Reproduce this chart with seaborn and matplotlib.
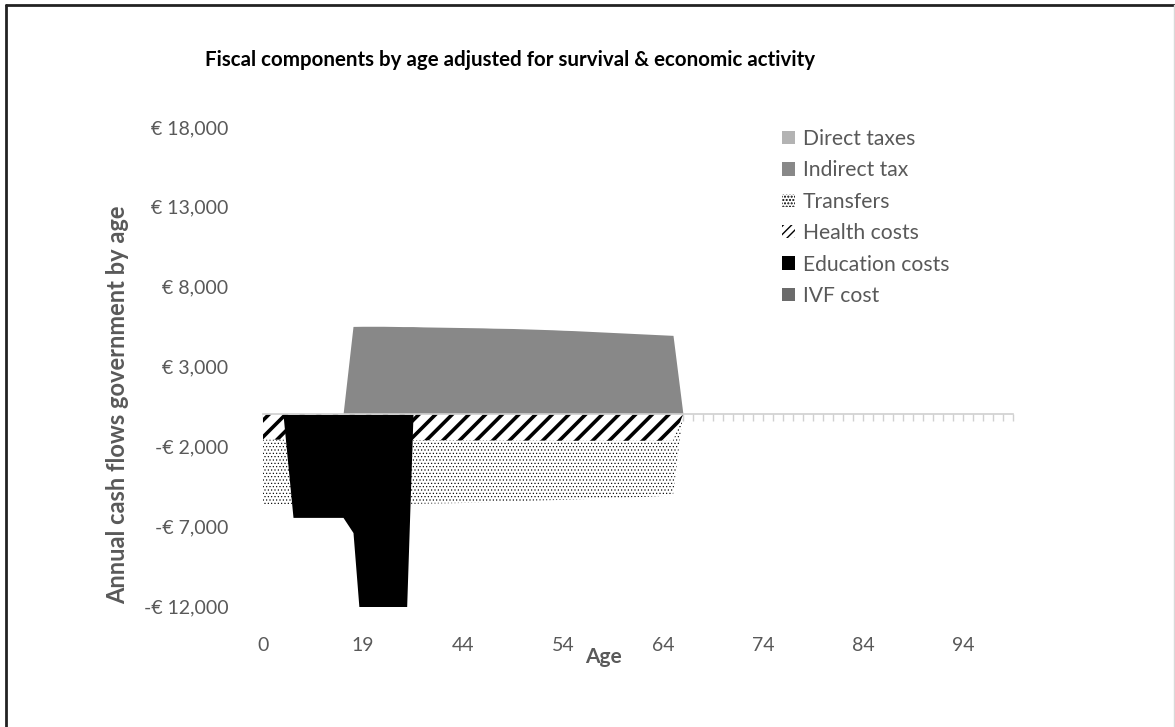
import numpy as np
import pandas as pd
import matplotlib
matplotlib.use('Agg')
import matplotlib.pyplot as plt
from matplotlib.lines import Line2D
from matplotlib.patches import Patch
from matplotlib.ticker import FuncFormatter
import seaborn as sns

# ---- data, one value per age category ----
n_cat = 76
age_ticks = [0, 10, 20, 30, 40, 50, 60, 70]
age_labels = ['0', '19', '44', '54', '64', '74', '84', '94']

direct_taxes = [0] * n_cat
indirect_tax = ([0] * 9 +
                [5510, 5520, 5520, 5520, 5510, 5500, 5500, 5480, 5470, 5460, 5450,
                 5440, 5430, 5420, 5400, 5390, 5380, 5360, 5340, 5320, 5300, 5270,
                 5250, 5220, 5190, 5160, 5130, 5100, 5070, 5040, 5010, 4980, 4950] +
                [0] * 34)
transfers = ([-5650, -5650, -5650, -5600, -5600, -5600, -5600, -5600, -5600,
              -5600, -5600, -5600, -5600, -5600, -5600,
              -5600, -5590, -5580, -5570, -5560, -5550, -5530, -5510, -5490,
              -5470, -5450, -5430, -5410, -5390, -5370, -5350, -5330, -5310,
              -5290, -5270, -5250, -5230, -5200, -5170, -5140, -5110, -5080] +
             [0] * 34)
health_costs = ([-1580, -1580, -1580, -1600, -1600, -1600, -1600, -1600, -1600,
                 -1600, -1600, -1600, -1600, -1600, -1600,
                 -1620, -1620, -1620, -1620, -1630, -1630, -1630, -1630, -1630,
                 -1640, -1640, -1640, -1640, -1640, -1650, -1650, -1650, -1650,
                 -1650, -1650, -1650, -1650, -1650, -1650, -1650, -1650, -1650] +
                [0] * 34)
education_costs = ([0, 0, 0, -6450, -6450, -6450, -6450, -6450, -6450,
                    -7400, -15300, -16000, -16500, -17500, -19000] +
                   [0] * 61)
ivf_cost = [0] * n_cat

series_names = ['Direct taxes', 'Indirect tax', 'Transfers', 'Health costs',
                'Education costs', 'IVF cost']

df = pd.DataFrame({
    'idx': np.arange(n_cat),
    'Direct taxes': direct_taxes,
    'Indirect tax': indirect_tax,
    'Transfers': transfers,
    'Health costs': health_costs,
    'Education costs': education_costs,
    'IVF cost': ivf_cost,
})

# ---- style ----
sns.set_style('white')
plt.rcParams['font.family'] = ['Lato', 'DejaVu Sans']
grey_txt = '#595959'

styles = {
    'Direct taxes': dict(facecolor='#b3b3b3', edgecolor='#b3b3b3', hatch=None, hlw=1.0),
    'Indirect tax': dict(facecolor='#888888', edgecolor='#888888', hatch=None, hlw=1.0),
    'Transfers': dict(facecolor='white', edgecolor='black', hatch='.....', hlw=0.45),
    'Health costs': dict(facecolor='white', edgecolor='black', hatch='//', hlw=2.6),
    'Education costs': dict(facecolor='black', edgecolor='black', hatch=None, hlw=1.0),
    'IVF cost': dict(facecolor='#6b6b6b', edgecolor='#6b6b6b', hatch=None, hlw=1.0),
}
# denser hatches for the small legend squares
legend_hatch = {'Transfers': ('.....', 0.45), 'Health costs': ('////', 1.6)}

fig = plt.figure(figsize=(11.75, 7.27), dpi=100)
ax = fig.add_axes([263 / 1175, 1 - 606 / 727, 750 / 1175, 479 / 727])

# overlapping (non-stacked) area chart, drawn in series order
for name in series_names:
    st = styles[name]
    with plt.rc_context({'hatch.linewidth': st['hlw']}):
        coll = ax.fill_between(df['idx'], 0, df[name], facecolor=st['facecolor'],
                               edgecolor=st['edgecolor'], hatch=st['hatch'],
                               linewidth=0)
    if hasattr(coll, 'set_hatch_linewidth'):
        coll.set_hatch_linewidth(st['hlw'])

ax.set_xlim(0, n_cat - 1)
ax.set_ylim(-12000, 18000)
ax.set_yticks(np.arange(-12000, 18001, 5000))


def euro(v, pos):
    if v < 0:
        return f'-€ {abs(v):,.0f}'
    return f'€ {v:,.0f}'


ax.yaxis.set_major_formatter(FuncFormatter(euro))
ax.tick_params(axis='y', left=False, length=0, pad=25, labelsize=14,
               labelcolor=grey_txt)

# category axis crossing at zero with a tick per category
for side in ['left', 'right', 'top']:
    ax.spines[side].set_visible(False)
ax.spines['bottom'].set_position(('data', 0))
ax.spines['bottom'].set_color('#d0d0d0')
ax.spines['bottom'].set_linewidth(1.2)
ax.spines['bottom'].set_zorder(3)
ax.set_xticks(np.arange(n_cat))
ax.tick_params(axis='x', bottom=True, direction='out', length=5, width=1,
               color='#d0d0d0', labelbottom=False)

# labels placed low, like the original
sec = ax.secondary_xaxis('bottom')
sec.set_xticks(age_ticks, age_labels)
sec.tick_params(bottom=False, length=0, pad=22, labelsize=14,
                labelcolor=grey_txt)
sec.spines['bottom'].set_visible(False)

fig.text(603 / 1175, 1 - 657 / 727, 'Age', ha='center', va='center',
         fontsize=15, fontweight='bold', color=grey_txt)
fig.text(118 / 1175, 1 - 405 / 727, 'Annual cash flows government by age',
         ha='center', va='center', rotation=90, fontsize=17,
         fontweight='bold', color=grey_txt)
fig.text(205 / 1175, 1 - 60 / 727,
         'Fiscal components by age adjusted for survival & economic activity',
         ha='left', va='center', fontsize=14.8, fontweight='bold', color='black')

# legend
handles = []
for name in series_names:
    st = styles[name]
    hatch, hlw = legend_hatch.get(name, (st['hatch'], st['hlw']))
    with plt.rc_context({'hatch.linewidth': hlw}):
        p = Patch(facecolor=st['facecolor'], edgecolor=st['edgecolor'],
                  hatch=hatch, linewidth=0, label=name)
    if hasattr(p, 'set_hatch_linewidth'):
        p.set_hatch_linewidth(hlw)
    handles.append(p)
fig.legend(handles=handles, loc='upper left',
           bbox_to_anchor=(782 / 1175, 1 - 129 / 727), frameon=False,
           fontsize=15.2, labelcolor=grey_txt, handlelength=0.6,
           handleheight=0.6, handletextpad=0.4, labelspacing=0.54,
           borderpad=0, borderaxespad=0)

# outer frame of the original picture
fig.add_artist(Line2D([6 / 1175, 1], [1 - 5 / 727, 1 - 5 / 727],
                      transform=fig.transFigure, color='#222222', linewidth=2))
fig.add_artist(Line2D([6 / 1175, 6 / 1175], [0, 1 - 5 / 727],
                      transform=fig.transFigure, color='#222222', linewidth=2))
fig.add_artist(Line2D([1174 / 1175, 1174 / 1175], [0, 1 - 5 / 727],
                      transform=fig.transFigure, color='#d9d9d9', linewidth=1))

fig.savefig('out.png', dpi=100)
